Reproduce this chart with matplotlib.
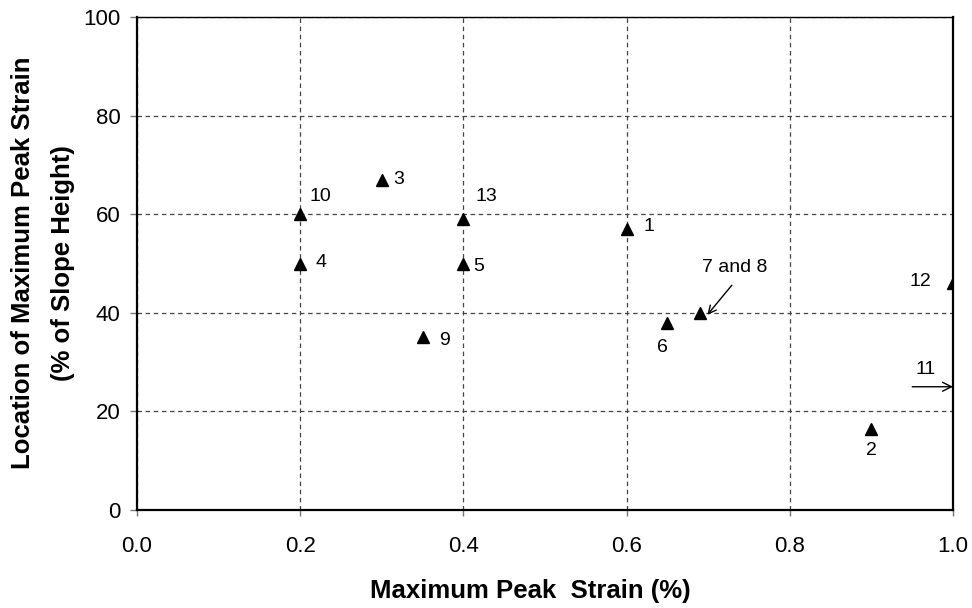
import matplotlib.pyplot as plt

plt.rcParams['font.family'] = ['Liberation Sans', 'DejaVu Sans']

# data points (strain %, location % of slope height)
ids = ['1', '2', '3', '4', '5', '6', '7 and 8', '9', '10', '12', '13']
strain = [0.60, 0.90, 0.30, 0.20, 0.40, 0.65, 0.69, 0.35, 0.20, 1.00, 0.40]
loc = [57, 16.5, 67, 50, 50, 38, 40, 35, 60, 46, 59]

# point 11 lies beyond the x range: shown as an arrow at the edge
p11_loc = 25

# label offsets in points, horizontal alignment
offs = {'1': (12, 2, 'left'), '2': (0, -16, 'center'), '3': (8.5, 0, 'left'),
        '4': (11, 1, 'left'), '5': (7, -2, 'left'), '6': (-3.5, -18, 'center'),
        '9': (12, -2, 'left'), '10': (7, 13, 'left'), '12': (-16, 1, 'right'),
        '13': (8.5, 16, 'left')}

fig = plt.figure(figsize=(9.72, 6.08), dpi=100)
ax = fig.add_axes([137/972, 1-510/608, 816/972, 493/608])

ax.plot(strain, loc, linestyle='none', marker='^', color='black', markersize=8.5)

for s, l, t in zip(strain, loc, ids):
    if t == '7 and 8':
        ax.annotate('', xy=(s + 0.009, l - 0.4), xytext=(s + 0.039, l + 5.6),
                    arrowprops=dict(arrowstyle='->', color='black', lw=1,
                                    shrinkA=0, shrinkB=0, mutation_scale=14))
        ax.text(s + 0.043, l + 9.1, t, ha='center', va='center', fontsize=14)
        continue
    dx, dy, ha = offs[t]
    ax.annotate(t, xy=(s, l), xytext=(dx, dy), textcoords='offset points',
                ha=ha, va='center', fontsize=14)

ax.annotate('', xy=(1.0, p11_loc), xytext=(0.95, p11_loc),
            arrowprops=dict(arrowstyle='->', color='black', lw=1,
                            shrinkA=0, shrinkB=0, mutation_scale=16))
ax.text(0.966, p11_loc + 3.6, '11', ha='center', va='center', fontsize=14)

ax.set_xlim(0, 1.0)
ax.set_ylim(0, 100)
ax.set_xticks([0, 0.2, 0.4, 0.6, 0.8, 1.0])
ax.set_yticks([0, 20, 40, 60, 80, 100])
ax.set_xticklabels(['0.0', '0.2', '0.4', '0.6', '0.8', '1.0'])
ax.tick_params(labelsize=16, direction='out', color='#777777', width=1)
ax.tick_params(axis='x', length=4, pad=15)
ax.tick_params(axis='y', length=5, pad=7)
ax.grid(True, linestyle=(0, (3.6, 2.9)), color='#444444', linewidth=0.9)
ax.set_axisbelow(True)
for k in ['left', 'bottom', 'right']:
    ax.spines[k].set_linewidth(1.6)
ax.spines['top'].set_linewidth(1.0)

# axis titles
fig.text(530/972, 1-598/608, 'Maximum Peak  Strain (%)', ha='center',
         va='baseline', fontsize=18.5, fontweight='bold')
fig.text(30/972, 1-263/608, 'Location of Maximum Peak Strain', rotation=90,
         rotation_mode='anchor', ha='center', va='baseline',
         fontsize=18.5, fontweight='bold')
fig.text(70/972, 1-263/608, '(% of Slope Height)', rotation=90,
         rotation_mode='anchor', ha='center', va='baseline',
         fontsize=18.5, fontweight='bold')

fig.savefig('out.png', dpi=100)
